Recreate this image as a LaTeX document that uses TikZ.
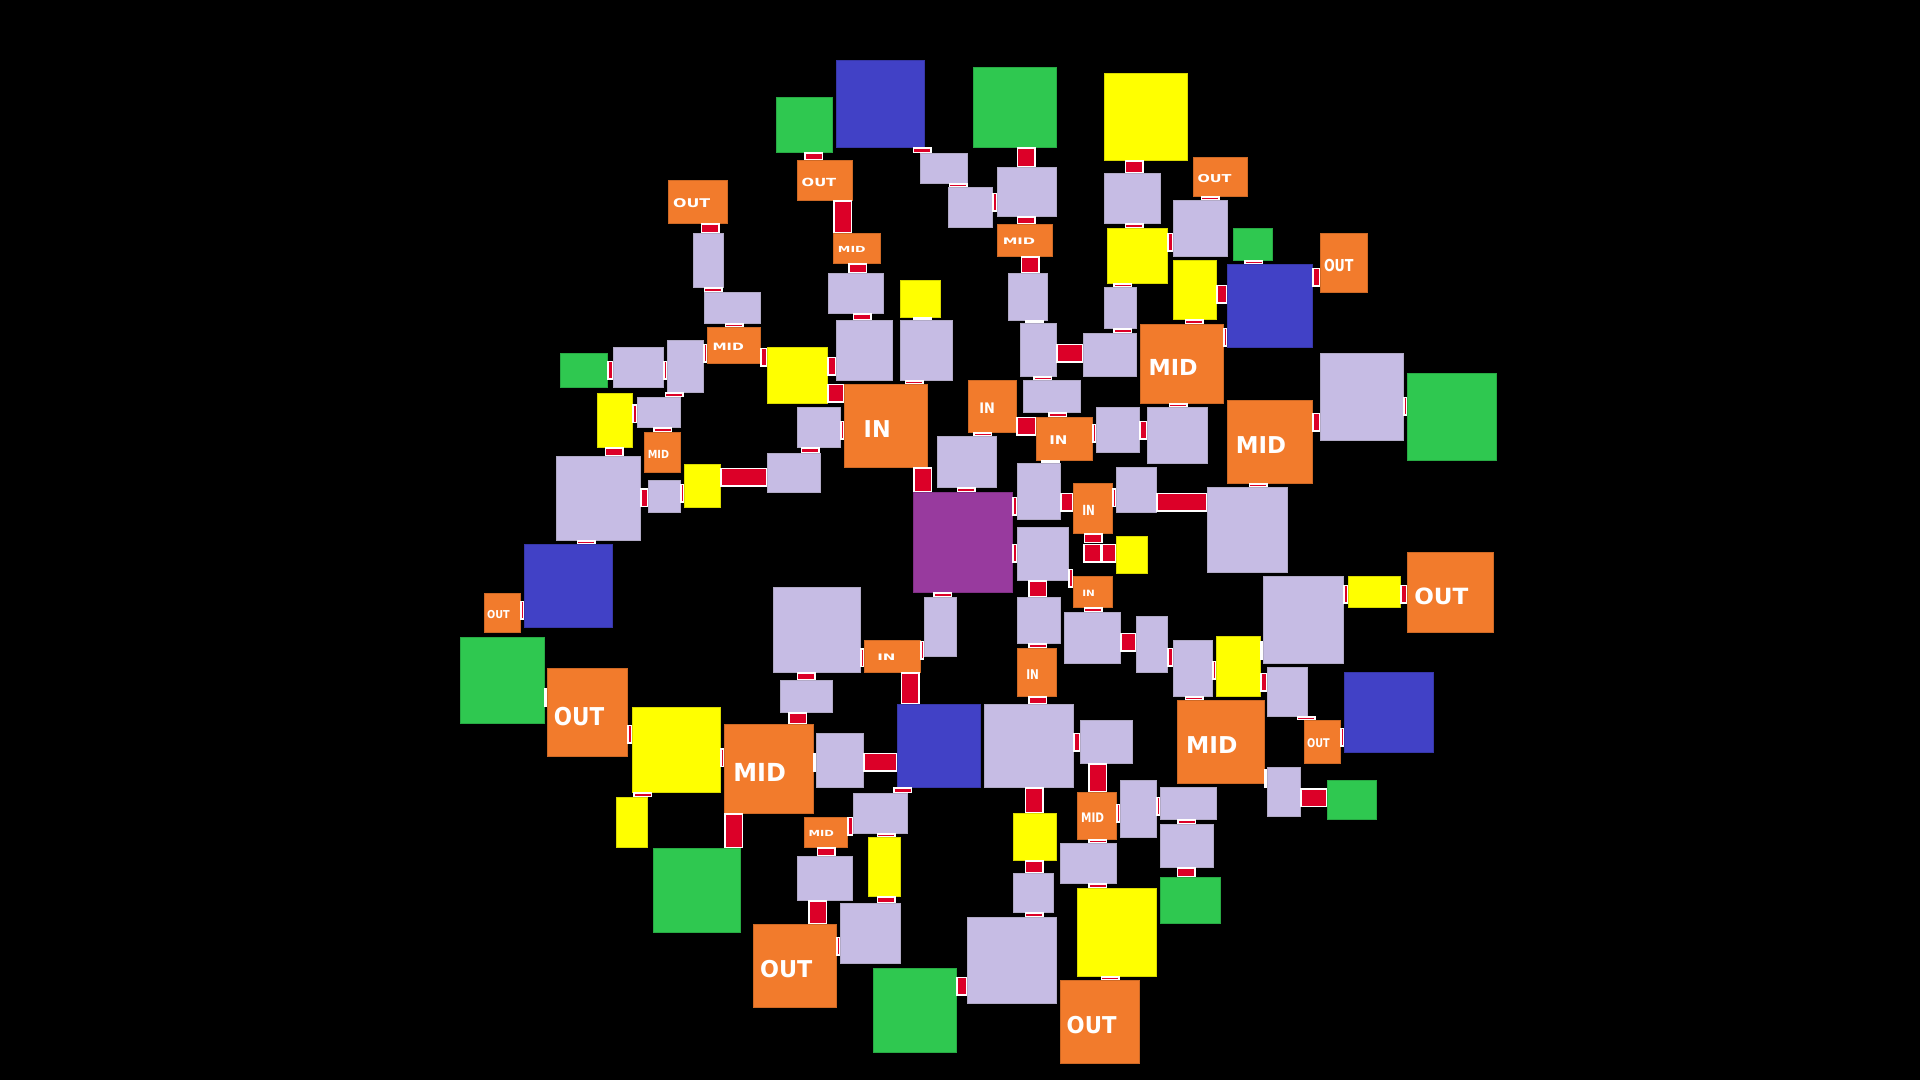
\documentclass[tikz,border=0pt]{standalone}
\usepackage{fontspec}
\usepackage{graphicx}
\newfontfamily\labelfont{DejaVu Sans}
\definecolor{lav}{RGB}{198,188,228}
\definecolor{grn}{RGB}{47,200,80}
\definecolor{blu}{RGB}{65,65,198}
\definecolor{yel}{RGB}{255,255,0}
\definecolor{org}{RGB}{242,123,44}
\definecolor{pur}{RGB}{152,58,158}
\definecolor{lnkred}{RGB}{220,0,40}
\usetikzlibrary{calc}

% box from its corners (pixels): name, style, x1, y1, x2, y2
\newcommand\bx[6]{\node[#2, minimum width={(#5-#3)*1pt}, minimum height={(#6-#4)*1pt}]
  (#1) at ({(#3+#5)/2},{(#4+#6)/2}) {};}
% same, with a label that stretches with the box
\newcommand\tb[7]{\node[#2, minimum width={(#5-#3)*1pt}, minimum height={(#6-#4)*1pt}]
  (#1) at ({(#3+#5)/2},{(#4+#6)/2})
  {\raisebox{\fpeval{-0.15*(#6-#4)}pt}[0pt][0pt]{\makebox[0pt]{\kern\fpeval{-0.2*(#5-#3)}pt%
   \scalebox{\fpeval{0.0098*(#5-#3)}}[\fpeval{0.0102*(#6-#4)}]{\labelfont\bfseries\fontsize{27.4}{28}\selectfont #7}}}};}
\newcommand\vl[3]{\draw[link] (#1.south -| #3,0) -- (#2.north -| #3,0);}
\newcommand\hl[3]{\draw[link] (#1.east |- 0,#3) -- (#2.west |- 0,#3);}

\begin{document}
\begin{tikzpicture}[
  x=1pt, y=-1pt,
  box/.style={inner sep=0pt, outer sep=0pt, line width=0.8pt},
  lavbox/.style={box, fill=lav, draw=lav!70!gray},
  grnbox/.style={box, fill=grn, draw=grn!85!black},
  blubox/.style={box, fill=blu, draw=blu!85!black},
  yelbox/.style={box, fill=yel, draw=yel!85!black},
  purbox/.style={box, fill=pur, draw=pur!85!black},
  orgbox/.style={box, fill=org, draw=org!85!black, text=white},
  link/.style={draw=white, line width=19pt,
               postaction={draw=lnkred, line width=16pt, shorten <=1.5pt, shorten >=1.5pt}}
]
\fill[black] (0,0) rectangle (1920,1080);
\useasboundingbox (0,0) rectangle (1920,1080);

\bx{g1}{grnbox}{776}{97}{832}{152}
\bx{g2}{grnbox}{973}{67}{1056}{147}
\bx{g3}{grnbox}{1233}{228}{1272}{260}
\bx{g4}{grnbox}{1407}{373}{1496}{460}
\bx{g5}{grnbox}{560}{353}{607}{387}
\bx{g6}{grnbox}{1160}{877}{1220}{923}
\bx{g7}{grnbox}{873}{968}{956}{1052}
\bx{g8}{grnbox}{460}{637}{544}{723}
\bx{g9}{grnbox}{653}{848}{740}{932}
\bx{g10}{grnbox}{1327}{780}{1376}{819}

\bx{b1}{blubox}{836}{60}{924}{147}
\bx{b2}{blubox}{1227}{264}{1312}{347}
\bx{b3}{blubox}{524}{544}{612}{627}
\bx{b4}{blubox}{897}{704}{980}{787}
\bx{b5}{blubox}{1344}{672}{1433}{752}

\bx{y1}{yelbox}{900}{280}{940}{317}
\bx{y2}{yelbox}{1104}{73}{1187}{160}
\bx{y3}{yelbox}{1107}{228}{1167}{283}
\bx{y4}{yelbox}{1173}{260}{1216}{319}
\bx{y5}{yelbox}{1348}{576}{1400}{607}
\bx{y6}{yelbox}{767}{347}{827}{403}
\bx{y7}{yelbox}{597}{393}{632}{447}
\bx{y8}{yelbox}{684}{464}{720}{507}
\bx{y9}{yelbox}{1116}{536}{1147}{573}
\bx{y10}{yelbox}{868}{837}{900}{896}
\bx{y11}{yelbox}{1013}{813}{1056}{860}
\bx{y12}{yelbox}{1077}{888}{1156}{976}
\bx{y13}{yelbox}{632}{707}{720}{792}
\bx{y14}{yelbox}{616}{797}{647}{847}
\bx{y15}{yelbox}{1216}{636}{1260}{696}

\bx{p}{purbox}{913}{492}{1012}{592}

\tb{out1}{orgbox}{668}{180}{727}{223}{OUT}
\tb{out2}{orgbox}{797}{160}{852}{200}{OUT}
\tb{out3}{orgbox}{1193}{157}{1247}{196}{OUT}
\tb{out4}{orgbox}{1320}{233}{1367}{292}{OUT}
\tb{out5}{orgbox}{1407}{552}{1493}{632}{OUT}
\tb{out6}{orgbox}{753}{924}{836}{1007}{OUT}
\tb{out7}{orgbox}{1060}{980}{1139}{1063}{OUT}
\tb{out8}{orgbox}{484}{593}{520}{632}{OUT}
\tb{out9}{orgbox}{547}{668}{627}{756}{OUT}
\tb{out10}{orgbox}{1304}{720}{1340}{763}{OUT}
\tb{mid1}{orgbox}{833}{233}{880}{263}{MID}
\tb{mid2}{orgbox}{997}{224}{1052}{256}{MID}
\tb{mid3}{orgbox}{1140}{324}{1223}{403}{MID}
\tb{mid4}{orgbox}{1227}{400}{1312}{483}{MID}
\tb{mid5}{orgbox}{707}{327}{760}{363}{MID}
\tb{mid6}{orgbox}{644}{432}{680}{472}{MID}
\tb{mid7}{orgbox}{1077}{792}{1116}{839}{MID}
\tb{mid8}{orgbox}{804}{817}{847}{847}{MID}
\tb{mid9}{orgbox}{724}{724}{813}{813}{MID}
\tb{mid10}{orgbox}{1177}{700}{1264}{783}{MID}
\tb{in1}{orgbox}{844}{384}{927}{467}{IN}
\tb{in2}{orgbox}{968}{380}{1016}{432}{IN}
\tb{in3}{orgbox}{1036}{417}{1092}{460}{IN}
\tb{in4}{orgbox}{1073}{483}{1112}{533}{IN}
\tb{in5}{orgbox}{1073}{576}{1112}{607}{IN}
\tb{in6}{orgbox}{864}{640}{920}{672}{IN}
\tb{in7}{orgbox}{1017}{648}{1056}{696}{IN}

\bx{l1}{lavbox}{693}{233}{723}{287}
\bx{l2}{lavbox}{704}{292}{760}{323}
\bx{l3}{lavbox}{920}{153}{967}{183}
\bx{l4}{lavbox}{948}{187}{992}{227}
\bx{l5}{lavbox}{997}{167}{1056}{216}
\bx{l6}{lavbox}{1008}{273}{1047}{320}
\bx{l7}{lavbox}{828}{273}{883}{313}
\bx{l8}{lavbox}{1104}{173}{1160}{223}
\bx{l9}{lavbox}{1104}{287}{1136}{328}
\bx{l10}{lavbox}{1173}{200}{1227}{256}
\bx{l11}{lavbox}{1147}{407}{1207}{463}
\bx{l12}{lavbox}{1320}{353}{1403}{440}
\bx{l13}{lavbox}{1207}{487}{1287}{572}
\bx{l14}{lavbox}{1116}{467}{1156}{512}
\bx{l15}{lavbox}{1263}{576}{1343}{663}
\bx{l16}{lavbox}{667}{340}{703}{392}
\bx{l17}{lavbox}{613}{347}{663}{387}
\bx{l18}{lavbox}{637}{397}{680}{427}
\bx{l19}{lavbox}{556}{456}{640}{540}
\bx{l20}{lavbox}{648}{480}{680}{512}
\bx{l21}{lavbox}{767}{453}{820}{492}
\bx{l22}{lavbox}{797}{407}{840}{447}
\bx{l23}{lavbox}{836}{320}{892}{380}
\bx{l24}{lavbox}{900}{320}{952}{380}
\bx{l25}{lavbox}{937}{436}{996}{487}
\bx{l26}{lavbox}{1023}{380}{1080}{412}
\bx{l27}{lavbox}{1020}{323}{1056}{376}
\bx{l28}{lavbox}{1083}{333}{1136}{376}
\bx{l29}{lavbox}{1096}{407}{1139}{452}
\bx{l30}{lavbox}{1017}{463}{1060}{519}
\bx{l31}{lavbox}{1017}{527}{1068}{580}
\bx{l32}{lavbox}{1017}{597}{1060}{643}
\bx{l33}{lavbox}{773}{587}{860}{672}
\bx{l34}{lavbox}{924}{597}{956}{656}
\bx{l35}{lavbox}{984}{704}{1073}{787}
\bx{l37}{lavbox}{1064}{612}{1120}{663}
\bx{l38}{lavbox}{1136}{616}{1167}{672}
\bx{l39}{lavbox}{1080}{720}{1132}{763}
\bx{l40}{lavbox}{1120}{780}{1156}{837}
\bx{l41}{lavbox}{1160}{787}{1216}{819}
\bx{l42}{lavbox}{1160}{824}{1213}{867}
\bx{l43}{lavbox}{853}{793}{907}{833}
\bx{l44}{lavbox}{840}{903}{900}{963}
\bx{l45}{lavbox}{797}{856}{852}{900}
\bx{l46}{lavbox}{967}{917}{1056}{1003}
\bx{l47}{lavbox}{1013}{873}{1053}{912}
\bx{l48}{lavbox}{1060}{843}{1116}{883}
\bx{l50}{lavbox}{780}{680}{832}{712}
\bx{l51}{lavbox}{816}{733}{863}{787}
\bx{l53}{lavbox}{1173}{640}{1212}{696}
\bx{l54}{lavbox}{1267}{667}{1307}{716}
\bx{l55}{lavbox}{1267}{767}{1300}{816}

\vl{g1}{out2}{813.7}
\vl{out2}{mid1}{842.5}
\vl{mid1}{l7}{857.5}
\vl{l7}{l23}{862}
\vl{y1}{l24}{922.5}
\vl{l24}{in1}{914}
\vl{in1}{p}{922.5}
\vl{l25}{p}{966}
\vl{in2}{l25}{982.5}
\vl{b1}{l3}{922}
\vl{l3}{l4}{958}
\vl{g2}{l5}{1026}
\vl{l5}{mid2}{1026}
\vl{mid2}{l6}{1030}
\vl{l6}{l27}{1034}
\vl{l27}{l26}{1042.5}
\vl{l26}{in3}{1057.5}
\vl{in3}{l30}{1050}
\vl{y2}{l8}{1134}
\vl{l8}{y3}{1134}
\vl{y3}{l9}{1122.5}
\vl{l9}{l28}{1122.5}
\vl{out3}{l10}{1210}
\vl{g3}{b2}{1253.7}
\vl{y4}{mid3}{1194}
\vl{mid3}{l11}{1178}
\vl{mid4}{l13}{1258}
\vl{out1}{l1}{710}
\vl{l1}{l2}{713}
\vl{l2}{mid5}{734}
\vl{l16}{l18}{674}
\vl{l18}{mid6}{662.5}
\vl{y7}{l19}{614}
\vl{l19}{b3}{586}
\vl{l22}{l21}{810}
\vl{l31}{l32}{1037.5}
\vl{l32}{in7}{1037.5}
\vl{in7}{l35}{1037.5}
\vl{in5}{l37}{1093}
\vl{in6}{b4}{910}
\vl{p}{l34}{942.5}
\vl{l33}{l50}{806}
\vl{l50}{mid9}{797.5}
\vl{b4}{l43}{902.5}
\vl{l35}{y11}{1034}
\vl{y11}{l47}{1034}
\vl{l47}{l46}{1034}
\vl{l43}{y10}{886}
\vl{y10}{l44}{886}
\vl{mid8}{l45}{826}
\vl{l45}{out6}{817.5}
\vl{l39}{mid7}{1097.5}
\vl{mid7}{l48}{1097.5}
\vl{l48}{y12}{1097.5}
\vl{y12}{out7}{1110}
\vl{l41}{l42}{1186.5}
\vl{l42}{g6}{1186}
\vl{l53}{mid10}{1194}
\vl{l54}{out10}{1306}
\vl{mid9}{g9}{733.5}
\vl{y13}{y14}{642.5}

\hl{l17}{l16}{370}
\hl{g5}{l17}{370}
\hl{l16}{mid5}{353}
\hl{mid5}{y6}{357}
\hl{y6}{l23}{366}
\hl{y6}{in1}{393}
\hl{l22}{in1}{430}
\hl{y7}{l18}{413.5}
\hl{l19}{l20}{497.5}
\hl{l20}{y8}{493}
\hl{y8}{l21}{477}
\hl{in2}{in3}{426}
\hl{l27}{l28}{353}
\hl{l4}{l5}{202}
\hl{in3}{l29}{433}
\hl{l29}{l11}{430}
\hl{y3}{l10}{242}
\hl{y4}{b2}{294}
\hl{b2}{out4}{277}
\hl{mid3}{b2}{337}
\hl{mid4}{l12}{422}
\hl{l12}{g4}{406}
\hl{l14}{l13}{502}
\hl{in4}{l14}{497.5}
\hl{l30}{in4}{502}
\hl{p}{l30}{506}
\hl{p}{l31}{553}
\hl{l31}{in5}{578}
\hl{l15}{y5}{594}
\hl{y5}{out5}{594}
\hl{l37}{l38}{642}
\hl{l38}{l53}{657}
\hl{l53}{y15}{670}
\hl{y15}{l15}{650}
\hl{y15}{l54}{682}
\hl{out10}{b5}{737}
\hl{mid10}{l55}{778}
\hl{l55}{g10}{797.5}
\hl{l35}{l39}{742}
\hl{mid7}{l40}{813}
\hl{l40}{l41}{806}
\hl{l33}{in6}{657.5}
\hl{in6}{l34}{650}
\hl{mid9}{l51}{762}
\hl{l51}{b4}{762}
\hl{y13}{mid9}{757.5}
\hl{out9}{y13}{734}
\hl{g8}{out9}{697.5}
\hl{out8}{b3}{610}
\hl{mid8}{l43}{826}
\hl{out6}{l44}{946}
\hl{g7}{l46}{986}

\coordinate (j0) at (1093,543);
\coordinate (j1) at (1083,553);
\coordinate (j2) at (1101.5,553);
\draw[link] (in4.south -| j0) -- (j0);
\draw[link] (j1) -- (j2);
\draw[link] (j2) -- (y9.west |- j2);
\end{tikzpicture}
\end{document}
